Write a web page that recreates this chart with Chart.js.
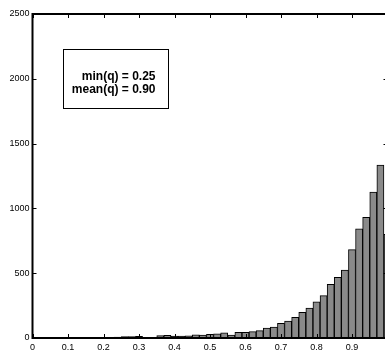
<!DOCTYPE html>
<html>
<head>
<meta charset="utf-8">
<script src="https://cdn.jsdelivr.net/npm/chart.js@4/dist/chart.umd.min.js"></script>
<style>
  html, body { margin: 0; padding: 0; background: #fff; overflow: hidden; }
  canvas { display: block; }
</style>
</head>
<body>
<canvas id="chart" width="392" height="354"></canvas>
<script>
// histogram bin centres (bin width 0.02) and counts
const binCenters = [0.24, 0.26, 0.28, 0.30, 0.32, 0.34, 0.36, 0.38, 0.40, 0.42, 0.44, 0.46, 0.48,
    0.50, 0.52, 0.54, 0.56, 0.58, 0.60, 0.62, 0.64, 0.66, 0.68, 0.70, 0.72, 0.74, 0.76, 0.78,
    0.80, 0.82, 0.84, 0.86, 0.88, 0.90, 0.92, 0.94, 0.96, 0.98, 1.00]
const counts = [8, 10, 10, 12, 0, 0, 18, 20, 14, 15, 17, 25, 22,
    28, 33, 39, 23, 44, 44, 49, 57, 77, 85, 114, 131, 160, 198, 231,
    280, 327, 414, 468, 525, 682, 843, 931, 1125, 1334, 800]
const xTicks = [0, 0.1, 0.2, 0.3, 0.4, 0.5, 0.6, 0.7, 0.8, 0.9, 1]
const yTicks = [0, 500, 1000, 1500, 2000, 2500]
const statLines = ['min(q) = 0.25', 'mean(q) = 0.90']

const frame = {
    id: 'frame',
    afterDatasetsDraw(chart) {
        const { ctx, chartArea: a, scales: { x, y } } = chart
        ctx.save()
        ctx.strokeStyle = '#000'
        ctx.lineWidth = 1
        ctx.beginPath()
        xTicks.forEach(v => {
            const px = Math.round(x.getPixelForValue(v)) + 0.5
            ctx.moveTo(px, a.bottom); ctx.lineTo(px, a.bottom - 4)
            ctx.moveTo(px, a.top); ctx.lineTo(px, a.top + 4)
        })
        yTicks.forEach(v => {
            const py = Math.round(y.getPixelForValue(v)) + 0.5
            ctx.moveTo(a.left, py); ctx.lineTo(a.left + 4, py)
            ctx.moveTo(a.right, py); ctx.lineTo(a.right - 4, py)
        })
        ctx.stroke()
        ctx.lineWidth = 2
        ctx.strokeRect(a.left, a.top, a.right - a.left, a.bottom - a.top)

        // text box
        const bx = a.left + 31, by = a.top + 35.5
        ctx.lineWidth = 1
        ctx.strokeRect(bx, by, 105, 59)
        ctx.fillStyle = '#000'
        ctx.font = 'bold 12px "Liberation Sans", Arial, sans-serif'
        ctx.textAlign = 'right'
        ctx.textBaseline = 'alphabetic'
        statLines.forEach((t, i) => ctx.fillText(t, bx + 92, by + 30 + i * 13.5))
        ctx.restore()
    }
}

const ctx = document.getElementById('chart').getContext('2d')
new Chart(ctx, {
    type: 'bar',
    data: {
        datasets: [{
            data: binCenters.map((c, i) => ({ x: c, y: counts[i] })),
            backgroundColor: '#8a8a8a',
            borderColor: '#000',
            borderWidth: 1,
            barPercentage: 1,
            categoryPercentage: 1
        }]
    },
    options: {
        responsive: false,
        animation: false,
        events: [],
        layout: { padding: { top: 14, right: 4.5, left: 0, bottom: 0 } },
        plugins: { legend: { display: false }, tooltip: { enabled: false } },
        scales: {
            x: {
                type: 'linear',
                offset: false,
                min: 0,
                max: 1,
                afterBuildTicks: s => { s.ticks = xTicks.map(v => ({ value: v })) },
                afterFit: s => { s.height = 16; s.paddingRight = 0; s.paddingLeft = 0 },
                grid: { display: false, drawTicks: false },
                border: { display: false },
                ticks: {
                    color: '#000',
                    padding: 4,
                    maxRotation: 0,
                    font: { family: '"Liberation Sans", Arial, sans-serif', size: 9 },
                    // the label at 1 falls outside the picture
                    callback: v => (v === 1 ? '' : String(v))
                }
            },
            y: {
                min: 0,
                max: 2500,
                afterBuildTicks: s => { s.ticks = yTicks.map(v => ({ value: v })) },
                afterFit: s => { s.width = 32.5 },
                grid: { display: false, drawTicks: false },
                border: { display: false },
                ticks: {
                    color: '#000',
                    padding: 3,
                    font: { family: '"Liberation Sans", Arial, sans-serif', size: 9 },
                    callback: v => String(v)
                }
            }
        }
    },
    plugins: [frame]
})
</script>
</body>
</html>
